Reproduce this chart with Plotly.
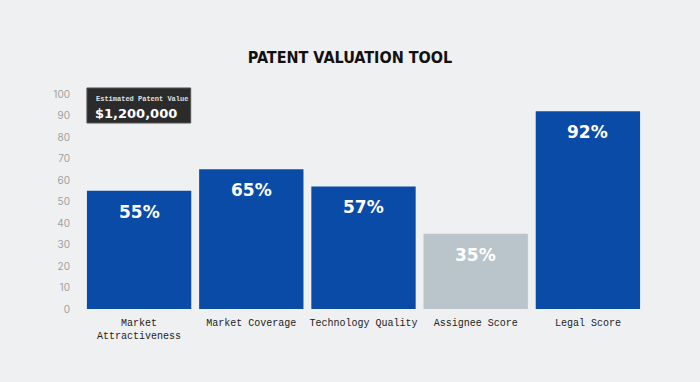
import plotly.graph_objects as go

categories = ["Market<br>Attractiveness", "Market Coverage", "Technology Quality", "Assignee Score", "Legal Score"]
values = [55, 65, 57, 35, 92]
bar_colors = ["#0B4BA8", "#0B4BA8", "#0B4BA8", "#B9C5CB", "#0B4BA8"]
tooltip_title = "Estimated Patent Value"
tooltip_value = "$1,200,000"

fig = go.Figure(go.Bar(
    x=categories, y=values,
    marker=dict(color=bar_colors, line=dict(width=0)),
    hoverinfo="x+y",
))

for c, v in zip(categories, values):
    fig.add_annotation(x=c, y=v, yshift=-21, yanchor="middle", showarrow=False,
                       text=f"<b>{v}%</b>",
                       font=dict(family="DejaVu Sans", size=17, color="white"))

fig.update_layout(
    width=700, height=382,
    paper_bgcolor="#EFF0F2", plot_bgcolor="#EFF0F2",
    margin=dict(l=83, r=56, t=94, b=73),
    bargap=0.07,
    showlegend=False,
    title=dict(text="<b>PATENT VALUATION TOOL</b>", x=0.5, xanchor="center", y=0.85, yanchor="middle",
               font=dict(family="DejaVu Sans Condensed", size=16, color="#111111")),
    xaxis=dict(showgrid=False, showline=False, zeroline=False, ticks="", ticklabelstandoff=6,
               tickfont=dict(family="Liberation Mono", size=10, color="#222222")),
    yaxis=dict(range=[0, 100], dtick=10, showgrid=False, showline=False, zeroline=False,
               ticks="", ticklabelstandoff=12,
               tickfont=dict(family="Inter", size=10, color="#A0A0A0")),
)

fig.add_shape(type="rect", xref="paper", yref="paper", x0=0.007, x1=0.192, y0=0.865, y1=1.028,
              fillcolor="#2B2B2B", line=dict(width=1, color="#555555"), layer="above")
fig.add_annotation(xref="paper", yref="paper", x=0.02, y=1.005, xanchor="left", yanchor="top",
                   text=f"<b>{tooltip_title}</b>", showarrow=False,
                   font=dict(family="Liberation Mono", size=7, color="#E0E0E0"))
fig.add_annotation(xref="paper", yref="paper", x=0.018, y=0.955, xanchor="left", yanchor="top",
                   text=f"<b>{tooltip_value}</b>", showarrow=False,
                   font=dict(family="DejaVu Sans", size=13, color="white"))

fig.write_html("out.html", config={"displayModeBar": False},
               post_script="document.body.style.margin='0';")
